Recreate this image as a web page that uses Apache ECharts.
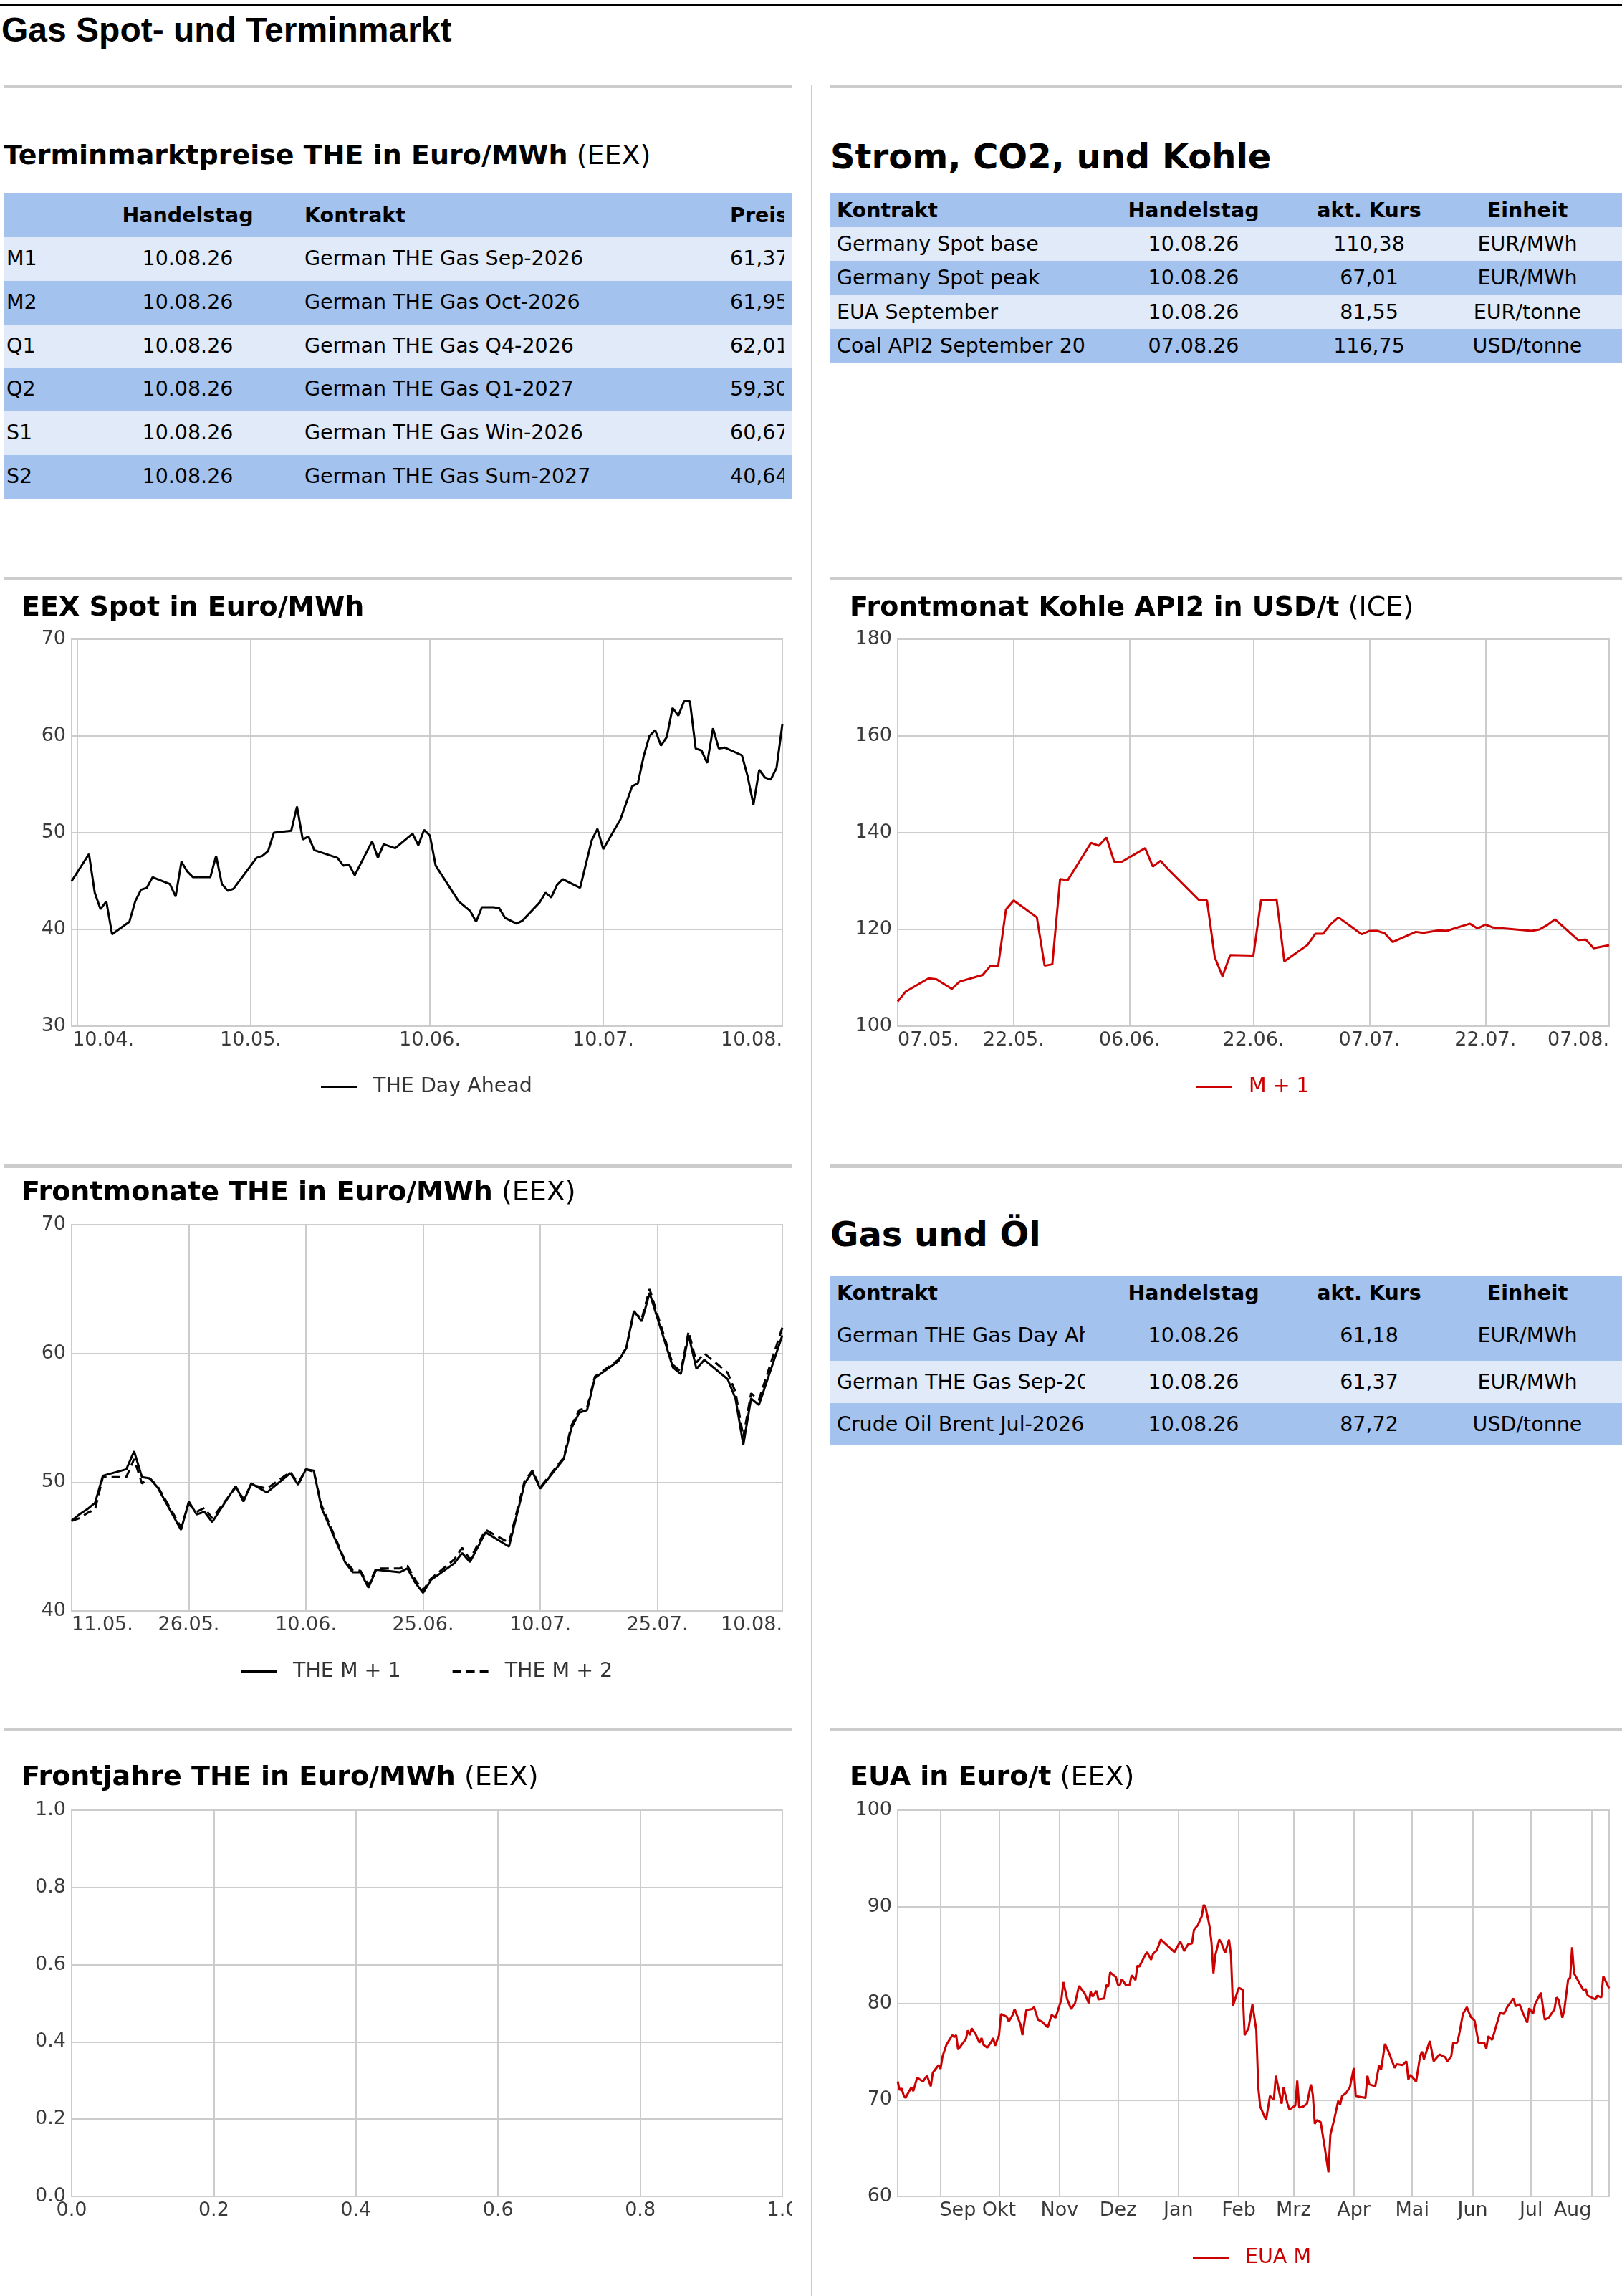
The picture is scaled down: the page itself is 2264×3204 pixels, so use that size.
<!DOCTYPE html>
<html>
<head>
<meta charset="utf-8">
<title>Gas Spot- und Terminmarkt</title>
<script src="https://cdn.jsdelivr.net/npm/echarts@6/dist/echarts.min.js"></script>
<style>
  html, body { margin: 0; padding: 0; background: #fff; }
  body { position: relative; width: 2264px; height: 3204px; overflow: hidden; font-family: 'DejaVu Sans', sans-serif; color: #000; }
  .abs { position: absolute; }
  .ttl { position: absolute; white-space: nowrap; line-height: 1; font-weight: normal; z-index: 2; }
  .rule { position: absolute; height: 5px; background: #cccccc; }
  .cell { position: absolute; top: 0; white-space: nowrap; overflow: hidden; font-size: 28.5px; }
  .panel { position: absolute; }
</style>
</head>
<body>
<div class="abs" style="left:0;top:5px;width:2264px;height:4px;background:#000"></div>
<div class="ttl" style="left:2px;top:14px;font:bold 48px 'Liberation Sans',Arial,sans-serif">Gas Spot- und Terminmarkt</div>

<div class="abs" style="left:1132px;top:119px;width:2px;height:3085px;background:#cccccc"></div>
<div class="rule" style="left:5px;top:118px;width:1100px"></div>
<div class="rule" style="left:1158px;top:118px;width:1106px"></div>
<div class="rule" style="left:5px;top:805px;width:1100px"></div>
<div class="rule" style="left:1158px;top:805px;width:1106px"></div>
<div class="rule" style="left:5px;top:1625px;width:1100px"></div>
<div class="rule" style="left:1158px;top:1625px;width:1106px"></div>
<div class="rule" style="left:5px;top:2411px;width:1100px"></div>
<div class="rule" style="left:1158px;top:2411px;width:1106px"></div>

<div class="ttl" style="left:5px;top:197px;font-size:38px"><b>Terminmarktpreise THE in Euro/MWh</b> (EEX)</div>
<div class="ttl" style="left:1159px;top:194px;font-size:48px"><b>Strom, CO2, und Kohle</b></div>
<div class="ttl" style="left:30px;top:827px;font-size:38px"><b>EEX Spot in Euro/MWh</b></div>
<div class="ttl" style="left:1186px;top:827px;font-size:38px"><b>Frontmonat Kohle API2 in USD/t</b> (ICE)</div>
<div class="ttl" style="left:1159px;top:1698px;font-size:48px"><b>Gas und Öl</b></div>
<div class="ttl" style="left:30px;top:1643px;font-size:38px"><b>Frontmonate THE in Euro/MWh</b> (EEX)</div>
<div class="ttl" style="left:30px;top:2459px;font-size:38px"><b>Frontjahre THE in Euro/MWh</b> (EEX)</div>
<div class="ttl" style="left:1186px;top:2459px;font-size:38px"><b>EUA in Euro/t</b> (EEX)</div>

<div id="spot" class="panel" style="left:0;top:810px;width:1106px;height:800px"></div>
<div id="coal" class="panel" style="left:1134px;top:810px;width:1130px;height:800px"></div>
<div id="front" class="panel" style="left:0;top:1630px;width:1106px;height:770px"></div>
<div id="years" class="panel" style="left:0;top:2416px;width:1106px;height:788px"></div>
<div id="eua" class="panel" style="left:1134px;top:2416px;width:1130px;height:788px"></div>

<script type="text/javascript">
// Tabellen
var termHeader = ['', 'Handelstag', 'Kontrakt', 'Preis'];
var termRows = [
  ['M1', '10.08.26', 'German THE Gas Sep-2026', '61,37'],
  ['M2', '10.08.26', 'German THE Gas Oct-2026', '61,95'],
  ['Q1', '10.08.26', 'German THE Gas Q4-2026', '62,01'],
  ['Q2', '10.08.26', 'German THE Gas Q1-2027', '59,30'],
  ['S1', '10.08.26', 'German THE Gas Win-2026', '60,67'],
  ['S2', '10.08.26', 'German THE Gas Sum-2027', '40,64']
];
var marketHeader = ['Kontrakt', 'Handelstag', 'akt. Kurs', 'Einheit'];
var stromRows = [
  ['Germany Spot base', '10.08.26', '110,38', 'EUR/MWh'],
  ['Germany Spot peak', '10.08.26', '67,01', 'EUR/MWh'],
  ['EUA September', '10.08.26', '81,55', 'EUR/tonne'],
  ['Coal API2 September 2026', '07.08.26', '116,75', 'USD/tonne']
];
var gasOilRows = [
  ['German THE Gas Day Ahead', '10.08.26', '61,18', 'EUR/MWh'],
  ['German THE Gas Sep-2026', '10.08.26', '61,37', 'EUR/MWh'],
  ['Crude Oil Brent Jul-2026', '10.08.26', '87,72', 'USD/tonne']
];

// EEX Spot (THE Day Ahead)
var spotDates = ['2026-04-09','2026-04-12','2026-04-13','2026-04-14','2026-04-15','2026-04-16','2026-04-19','2026-04-20','2026-04-21','2026-04-22','2026-04-23','2026-04-26','2026-04-27','2026-04-28','2026-04-29','2026-04-30',
  '2026-05-03','2026-05-04','2026-05-05','2026-05-06','2026-05-07','2026-05-11','2026-05-12','2026-05-13','2026-05-14','2026-05-17','2026-05-18','2026-05-19','2026-05-20','2026-05-21','2026-05-25','2026-05-26','2026-05-27','2026-05-28','2026-05-31',
  '2026-06-01','2026-06-02','2026-06-04','2026-06-07','2026-06-08','2026-06-09','2026-06-10','2026-06-11','2026-06-15','2026-06-17','2026-06-18','2026-06-19','2026-06-21','2026-06-22','2026-06-23','2026-06-25','2026-06-26','2026-06-29','2026-06-30',
  '2026-07-01','2026-07-02','2026-07-03','2026-07-06','2026-07-08','2026-07-09','2026-07-10','2026-07-13','2026-07-15','2026-07-16','2026-07-17','2026-07-18','2026-07-19','2026-07-20','2026-07-21','2026-07-22','2026-07-23','2026-07-24','2026-07-25','2026-07-26','2026-07-27','2026-07-28','2026-07-29','2026-07-30','2026-07-31',
  '2026-08-03','2026-08-04','2026-08-05','2026-08-06','2026-08-07','2026-08-08','2026-08-09','2026-08-10'];
var spotValues = [45.0,47.8,43.8,42.1,42.9,39.5,40.8,42.9,44.1,44.3,45.4,44.7,43.4,47.0,46.0,45.4,
  45.4,47.6,44.7,44.0,44.2,47.4,47.6,48.1,50.0,50.2,52.7,49.3,49.6,48.2,47.4,46.6,46.7,45.6,49.1,
  47.4,48.8,48.4,49.9,48.7,50.3,49.7,46.6,42.9,41.9,40.8,42.3,42.3,42.2,41.2,40.6,40.9,42.8,43.8,
  43.3,44.6,45.2,44.3,49.2,50.4,48.3,51.4,54.8,55.1,57.9,60.0,60.6,59.0,59.9,62.9,62.1,63.6,63.6,58.7,58.5,57.2,60.8,58.7,58.8,
  58.0,55.8,52.9,56.5,55.7,55.5,56.7,61.2];
var spotTicks = ['2026-04-10','2026-05-10','2026-06-10','2026-07-10','2026-08-10'];

// Frontmonate THE
var frontDates = ['2026-05-11','2026-05-12','2026-05-13','2026-05-14','2026-05-15','2026-05-18','2026-05-19','2026-05-20','2026-05-21','2026-05-22','2026-05-25','2026-05-26','2026-05-27','2026-05-28','2026-05-29',
  '2026-06-01','2026-06-02','2026-06-03','2026-06-05','2026-06-08','2026-06-09','2026-06-10','2026-06-11','2026-06-12','2026-06-15','2026-06-16','2026-06-17','2026-06-18','2026-06-19','2026-06-22','2026-06-23','2026-06-24','2026-06-25','2026-06-26','2026-06-29','2026-06-30',
  '2026-07-01','2026-07-03','2026-07-06','2026-07-08','2026-07-09','2026-07-10','2026-07-13','2026-07-14','2026-07-15','2026-07-16','2026-07-17','2026-07-20','2026-07-21','2026-07-22','2026-07-23','2026-07-24','2026-07-27','2026-07-28','2026-07-29','2026-07-30','2026-07-31',
  '2026-08-03','2026-08-04','2026-08-05','2026-08-06','2026-08-07','2026-08-10'];
var frontM1 = [47.0,47.5,47.9,48.4,50.5,51.0,52.4,50.4,50.3,49.6,46.3,48.5,47.5,47.7,46.9,
  49.7,48.5,49.9,49.2,50.7,49.8,51.0,50.9,48.0,43.8,43.0,43.0,41.8,43.2,43.0,43.3,42.2,41.4,42.4,43.7,44.5,
  43.8,46.1,45.0,49.9,50.8,49.5,51.8,54.2,55.4,55.6,58.1,59.4,60.4,63.3,62.5,64.7,58.9,58.4,61.4,58.8,59.5,
  58.0,56.5,52.9,56.5,56.0,61.4];
var frontM2 = [47.0,47.2,47.6,47.9,50.4,50.4,51.8,49.9,50.3,49.7,46.5,48.3,47.7,48.0,47.2,
  49.6,48.7,49.8,49.5,50.8,49.9,51.0,50.8,48.2,43.9,43.2,43.1,42.0,43.3,43.3,43.5,42.4,41.6,42.5,44.0,44.9,
  44.0,46.3,45.3,50.1,50.9,49.6,51.9,54.4,55.6,55.8,58.2,59.5,60.4,63.2,62.7,65.0,59.1,58.6,61.7,59.3,60.0,
  58.5,57.0,53.5,56.9,56.4,62.0];
var frontTicks = ['2026-05-11','2026-05-26','2026-06-10','2026-06-25','2026-07-10','2026-07-25','2026-08-10'];

// Kohle API2 M+1
var coalDates = ['2026-05-07','2026-05-08','2026-05-11','2026-05-12','2026-05-14','2026-05-15','2026-05-18','2026-05-19','2026-05-20','2026-05-21','2026-05-22','2026-05-25','2026-05-26','2026-05-27','2026-05-28','2026-05-29',
  '2026-06-01','2026-06-02','2026-06-03','2026-06-04','2026-06-05','2026-06-08','2026-06-09','2026-06-10','2026-06-11','2026-06-15','2026-06-16','2026-06-17','2026-06-18','2026-06-19','2026-06-22','2026-06-23','2026-06-24','2026-06-25','2026-06-26','2026-06-29','2026-06-30',
  '2026-07-01','2026-07-02','2026-07-03','2026-07-06','2026-07-07','2026-07-08','2026-07-09','2026-07-10','2026-07-13','2026-07-14','2026-07-16','2026-07-17','2026-07-20','2026-07-21','2026-07-22','2026-07-23','2026-07-28','2026-07-29','2026-07-30','2026-07-31',
  '2026-08-03','2026-08-04','2026-08-05','2026-08-07'];
var coalValues = [105.1,107.1,109.9,109.7,107.7,109.2,110.6,112.5,112.5,124.1,126.0,122.5,112.5,112.8,130.4,130.2,
  137.9,137.3,139.0,134.0,134.0,136.8,133.0,134.2,132.4,126.0,126.0,114.3,110.3,114.7,114.6,126.1,126.0,126.2,113.4,116.8,119.1,
  119.1,121.1,122.5,119.0,119.7,119.7,119.2,117.4,119.5,119.3,119.8,119.7,121.2,120.2,121.0,120.4,119.7,120.0,120.9,122.1,
  117.8,117.9,116.1,116.75];
var coalTicks = ['2026-05-07','2026-05-22','2026-06-06','2026-06-22','2026-07-07','2026-07-22','2026-08-07'];

// EUA
var euaDates = ['2025-08-10','2025-08-11','2025-08-12','2025-08-13','2025-08-14','2025-08-17','2025-08-18','2025-08-20','2025-08-23','2025-08-25','2025-08-27','2025-08-28','2025-08-31',
  '2025-09-01','2025-09-02','2025-09-04','2025-09-07','2025-09-08','2025-09-09','2025-09-10','2025-09-14','2025-09-15','2025-09-16','2025-09-17','2025-09-19','2025-09-21','2025-09-22','2025-09-23','2025-09-25','2025-09-27','2025-09-28','2025-09-29',
  '2025-10-01','2025-10-02','2025-10-05','2025-10-06','2025-10-08','2025-10-09','2025-10-12','2025-10-13','2025-10-15','2025-10-18','2025-10-19','2025-10-21','2025-10-23','2025-10-26','2025-10-28','2025-10-30',
  '2025-11-02','2025-11-03','2025-11-05','2025-11-07','2025-11-09','2025-11-11','2025-11-14','2025-11-16','2025-11-17','2025-11-18','2025-11-20','2025-11-21','2025-11-24','2025-11-25','2025-11-26','2025-11-27','2025-11-30',
  '2025-12-01','2025-12-02','2025-12-03','2025-12-05','2025-12-07','2025-12-08','2025-12-10','2025-12-11','2025-12-12','2025-12-15','2025-12-16','2025-12-18','2025-12-19','2025-12-21','2025-12-23','2025-12-30',
  '2026-01-02','2026-01-04','2026-01-06','2026-01-08','2026-01-09','2026-01-11','2026-01-13','2026-01-14','2026-01-15','2026-01-17','2026-01-18','2026-01-19','2026-01-20','2026-01-22','2026-01-23','2026-01-25','2026-01-27','2026-01-28','2026-01-29','2026-01-31',
  '2026-02-01','2026-02-03','2026-02-04','2026-02-06','2026-02-08','2026-02-10','2026-02-11','2026-02-12','2026-02-15','2026-02-17','2026-02-19','2026-02-20','2026-02-23','2026-02-24','2026-02-26','2026-02-27',
  '2026-03-02','2026-03-03','2026-03-04','2026-03-06','2026-03-08','2026-03-10','2026-03-11','2026-03-12','2026-03-13','2026-03-15','2026-03-17','2026-03-19','2026-03-20','2026-03-22','2026-03-24','2026-03-25','2026-03-26','2026-03-28','2026-03-30',
  '2026-04-01','2026-04-02','2026-04-07','2026-04-08','2026-04-09','2026-04-12','2026-04-14','2026-04-15','2026-04-17','2026-04-19','2026-04-22','2026-04-23','2026-04-26','2026-04-28','2026-04-29','2026-04-30',
  '2026-05-03','2026-05-05','2026-05-06','2026-05-07','2026-05-10','2026-05-12','2026-05-15','2026-05-18','2026-05-19','2026-05-21','2026-05-22','2026-05-24','2026-05-25','2026-05-27','2026-05-29','2026-05-31',
  '2026-06-02','2026-06-04','2026-06-07','2026-06-08','2026-06-09','2026-06-11','2026-06-15','2026-06-17','2026-06-19','2026-06-22','2026-06-23','2026-06-25','2026-06-27','2026-06-29','2026-06-30',
  '2026-07-02','2026-07-03','2026-07-06','2026-07-08','2026-07-10','2026-07-13','2026-07-14','2026-07-15','2026-07-17','2026-07-18','2026-07-20','2026-07-21','2026-07-22','2026-07-23','2026-07-26','2026-07-28','2026-07-29','2026-07-30',
  '2026-08-02','2026-08-03','2026-08-04','2026-08-06','2026-08-07','2026-08-10'];
var euaValues = [71.9,71.0,71.2,70.5,70.2,71.3,70.9,72.3,71.9,72.5,71.4,72.8,73.6,
  73.2,74.5,75.7,76.7,76.5,76.7,75.2,76.3,77.2,76.7,77.4,76.8,75.9,76.4,75.7,75.4,76.0,76.4,75.6,
  76.7,78.9,78.6,78.1,78.8,79.4,77.8,76.7,79.3,79.4,79.6,78.3,78.1,77.5,78.8,78.5,
  80.4,82.2,80.4,79.4,80.0,81.8,81.0,80.0,81.2,80.7,81.3,80.4,80.5,81.9,81.7,83.2,82.7,
  81.9,81.9,82.5,81.9,81.9,82.9,82.4,83.9,83.8,85.0,85.3,84.5,85.1,85.5,86.6,85.3,
  86.4,85.4,86.1,86.2,87.6,88.1,89.0,90.2,89.9,88.0,86.3,83.1,85.0,86.6,86.3,85.2,86.6,85.0,79.7,81.0,
  81.6,81.4,76.7,77.4,79.9,77.2,71.3,69.3,67.9,70.4,70.0,72.5,69.6,71.3,69.6,69.0,
  69.4,72.0,69.2,69.3,69.6,71.6,70.5,67.5,67.9,67.7,65.2,62.5,66.4,68.0,69.9,69.5,70.4,70.7,71.3,
  73.3,70.4,70.2,72.5,71.6,71.4,73.6,73.1,75.8,74.9,73.3,73.7,73.6,74.0,72.1,72.6,
  71.9,74.5,75.0,74.2,76.1,74.0,74.7,74.4,74.0,74.5,75.9,75.9,76.7,78.9,79.6,78.6,
  78.2,75.9,75.9,75.3,76.6,76.2,79.0,78.9,79.7,80.5,79.7,79.9,78.9,78.0,79.5,
  78.9,79.9,81.1,78.3,78.5,79.4,80.6,80.4,78.5,79.3,82.5,82.6,85.8,83.1,82.0,81.3,81.5,80.8,
  80.5,80.4,80.8,80.6,82.8,81.55];
var euaTicks = ['2025-09-01','2025-10-01','2025-11-01','2025-12-01','2026-01-01','2026-02-01','2026-03-01','2026-04-01','2026-05-01','2026-06-01','2026-07-01','2026-08-01'];
var euaMonths = ['Sep','Okt','Nov','Dez','Jan','Feb','Mrz','Apr','Mai','Jun','Jul','Aug'];

var yearTicks = [0, 0.2, 0.4, 0.6, 0.8, 1.0];

var BLUE = '#a4c2ee', LIGHT = '#e0eaf9', RED = '#cc0000', INK = '#333333';
var FONT = 'DejaVu Sans';
var labelStyle = {fontFamily: FONT, fontSize: 27, color: '#3a3a3a'};
var gridLine = {show: true, lineStyle: {color: '#cccccc', width: 2}};
var DASH_ICON = 'path://M0,0h12v3h-12zM19,0h12v3h-12zM38,0h12v3h-12z';

function drawTable(left, width, top, heights, cols, header, rows, stripes) {
  var y = top;
  [header].concat(rows).forEach(function (r, i) {
    var row = document.createElement('div');
    row.className = 'abs';
    row.style.cssText = 'left:' + left + 'px;top:' + y + 'px;width:' + width + 'px;height:' + heights[i] + 'px;background:' + stripes[i];
    r.forEach(function (txt, j) {
      var c = document.createElement('div');
      c.className = 'cell';
      c.style.cssText = 'left:' + (cols[j].x - left) + 'px;width:' + cols[j].w + 'px;text-align:' + cols[j].a +
        ';line-height:' + heights[i] + 'px;font-weight:' + (i === 0 ? 'bold' : 'normal');
      c.textContent = txt;
      row.appendChild(c);
    });
    document.body.appendChild(row);
    y += heights[i];
  });
}

var termCols = [{x: 9, w: 150, a: 'left'}, {x: 162, w: 200, a: 'center'}, {x: 425, w: 580, a: 'left'}, {x: 1019, w: 76, a: 'left'}];
var marketCols = [{x: 1168, w: 347, a: 'left'}, {x: 1536, w: 260, a: 'center'}, {x: 1811, w: 200, a: 'center'}, {x: 2022, w: 220, a: 'center'}];

drawTable(5, 1100, 270, [61, 60.8, 60.8, 60.8, 60.8, 60.8, 60.8], termCols, termHeader, termRows,
  [BLUE, LIGHT, BLUE, LIGHT, BLUE, LIGHT, BLUE]);
drawTable(1159, 1105, 270, [47, 47.25, 47.25, 47.25, 47.25], marketCols, marketHeader, stromRows,
  [BLUE, LIGHT, BLUE, LIGHT, BLUE]);
drawTable(1159, 1105, 1781, [48, 70, 59, 59], marketCols, marketHeader, gasOilRows,
  [BLUE, BLUE, LIGHT, BLUE]);

// alle Kalendertage zwischen erstem und letztem Datum
function dayList(first, last) {
  var out = [];
  var t = Date.parse(first + 'T00:00:00Z'), end = Date.parse(last + 'T00:00:00Z');
  for (; t <= end; t += 86400000) out.push(new Date(t).toISOString().slice(0, 10));
  return out;
}
function onDays(days, dates, values) {
  var map = {};
  dates.forEach(function (d, i) { map[d] = values[i]; });
  return days.map(function (d) { return d in map ? map[d] : null; });
}
function ddmm(v) { return v.slice(8, 10) + '.' + v.slice(5, 7) + '.'; }

function dateChart(cfg) {
  var days = dayList(cfg.first, cfg.last);
  var isTick = function (i, v) { return cfg.ticks.indexOf(v) > -1; };
  var fmt = cfg.fmt || ddmm;
  var xLabel = Object.assign({interval: isTick, margin: 6, formatter: fmt}, labelStyle);
  if (cfg.alignEdges) { xLabel.alignMinLabel = 'left'; xLabel.alignMaxLabel = 'right'; }
  if (cfg.rich) xLabel.rich = cfg.rich;
  if (cfg.firstPad) {
    // erstes Label liegt nicht am Rand: zentriert mit Innenabstand nach links schieben
    xLabel.alignMinLabel = 'center';
    xLabel.formatter = function (v) {
      return v === cfg.ticks[0] ? '{p|' + fmt(v) + '}' : fmt(v);
    };
    xLabel.rich = {p: Object.assign({padding: [0, 0, 0, cfg.firstPad]}, labelStyle)};
  }
  var chart = echarts.init(document.getElementById(cfg.el));
  chart.setOption({
    animation: false,
    backgroundColor: 'transparent',
    grid: Object.assign({show: true, borderColor: '#cccccc', borderWidth: 2, outerBoundsMode: 'none', containLabel: false}, cfg.grid),
    legend: {
      left: cfg.legend[0], top: cfg.legend[1], padding: 0, itemWidth: 50, itemHeight: 3, itemGap: 72,
      selectedMode: false, itemStyle: {borderWidth: 0},
      textStyle: {fontFamily: FONT, fontSize: 28.5, color: INK, padding: [0, 0, 0, 18]},
      data: cfg.series.map(function (s) {
        return {name: s.name, icon: s.dash ? DASH_ICON : 'rect', textStyle: {color: s.textColor || INK}};
      })
    },
    xAxis: {
      type: 'category', data: days, boundaryGap: false,
      axisLine: {show: false}, axisTick: {show: false},
      axisLabel: xLabel,
      splitLine: {show: true, interval: isTick, lineStyle: {color: '#cccccc', width: 2}}
    },
    yAxis: {
      type: 'value', min: cfg.y[0], max: cfg.y[1], interval: cfg.y[2],
      axisLine: {show: false}, axisTick: {show: false},
      axisLabel: Object.assign({margin: 8}, labelStyle),
      splitLine: gridLine
    },
    series: cfg.series.map(function (s) {
      return {
        type: 'line', name: s.name, data: onDays(days, s.dates, s.values),
        connectNulls: true, symbol: 'none', showSymbol: false, color: s.color,
        lineStyle: {color: s.color, width: 3, type: s.dash ? [12, 7] : 'solid'}
      };
    })
  });
}

dateChart({
  el: 'spot', first: spotDates[0], last: spotDates[spotDates.length - 1], ticks: spotTicks, alignEdges: true, firstPad: 72,
  grid: {left: 100, top: 82, width: 992, height: 540}, y: [30, 70, 10], legend: [448, 692],
  series: [{name: 'THE Day Ahead', dates: spotDates, values: spotValues, color: '#000000'}]
});

dateChart({
  el: 'coal', first: coalDates[0], last: coalDates[coalDates.length - 1], ticks: coalTicks, alignEdges: true,
  grid: {left: 119, top: 82, width: 993, height: 540}, y: [100, 180, 20], legend: [536, 692],
  series: [{name: 'M + 1', dates: coalDates, values: coalValues, color: RED, textColor: RED}]
});

dateChart({
  el: 'front', first: frontDates[0], last: frontDates[frontDates.length - 1], ticks: frontTicks, alignEdges: true,
  grid: {left: 100, top: 79, width: 992, height: 539}, y: [40, 70, 10], legend: [336, 688],
  series: [
    {name: 'THE M + 1', dates: frontDates, values: frontM1, color: '#000000'},
    {name: 'THE M + 2', dates: frontDates, values: frontM2, color: '#000000', dash: true}
  ]
});

dateChart({
  el: 'eua', first: euaDates[0], last: euaDates[euaDates.length - 1], ticks: euaTicks,
  grid: {left: 119, top: 110, width: 993, height: 539}, y: [60, 100, 10], legend: [531, 720],
  fmt: function (v) {
    var i = euaTicks.indexOf(v);
    if (i === 0) return '{first|' + euaMonths[i] + '}';
    if (i === euaTicks.length - 1) return '{last|' + euaMonths[i] + '}';
    return euaMonths[i];
  },
  rich: {
    first: Object.assign({padding: [0, 0, 0, 48]}, labelStyle),
    last: Object.assign({padding: [0, 53, 0, 0]}, labelStyle)
  },
  series: [{name: 'EUA M', dates: euaDates, values: euaValues, color: RED, textColor: RED}]
});

// Frontjahre: leeres Diagramm
var years = echarts.init(document.getElementById('years'));
years.setOption({
  animation: false,
  backgroundColor: 'transparent',
  grid: {left: 100, top: 110, width: 992, height: 539, show: true, borderColor: '#cccccc', borderWidth: 2, outerBoundsMode: 'none', containLabel: false},
  xAxis: {
    type: 'value', min: yearTicks[0], max: yearTicks[yearTicks.length - 1], interval: 0.2,
    axisLine: {show: false}, axisTick: {show: false},
    axisLabel: Object.assign({margin: 6, formatter: function (v) { return v.toFixed(1); }}, labelStyle),
    splitLine: gridLine
  },
  yAxis: {
    type: 'value', min: yearTicks[0], max: yearTicks[yearTicks.length - 1], interval: 0.2,
    axisLine: {show: false}, axisTick: {show: false},
    axisLabel: Object.assign({margin: 8, formatter: function (v) { return v.toFixed(1); }}, labelStyle),
    splitLine: gridLine
  },
  series: []
});
</script>
</body>
</html>
